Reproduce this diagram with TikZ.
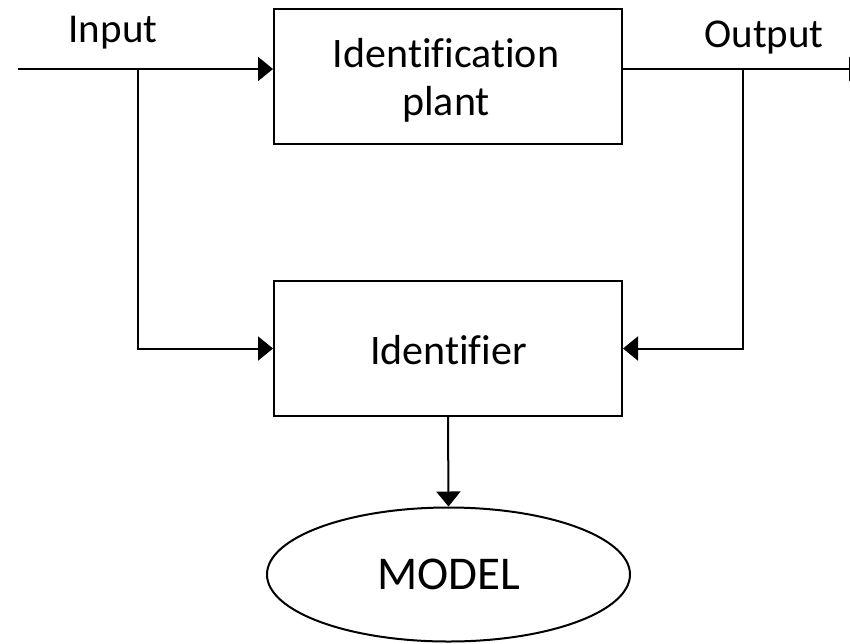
\documentclass[tikz,border=0pt]{standalone}
\usepackage{fontspec}
\setmainfont{Carlito}[Ligatures={NoCommon}]
\usetikzlibrary{arrows.meta,shapes.geometric}
\tikzset{
  blk/.style={draw, line width=2pt, minimum width=348pt, minimum height=135pt, inner sep=0pt},
  txt/.style={align=center, inner sep=0pt, font=\fontsize{42}{48}\selectfont},
  ovl/.style={draw, ellipse, line width=2pt, minimum width=363pt, minimum height=134pt, inner sep=0pt, font=\fontsize{47}{56}\selectfont},
  lbl/.style={anchor=base, inner sep=0pt, font=\fontsize{41}{48}\selectfont},
  wire/.style={line width=2pt},
  arr/.style={wire, -{Triangle[length=15pt,width=24pt]}}
}
\begin{document}
\begin{tikzpicture}[x=1pt,y=-1pt]
\useasboundingbox (0,0) rectangle (850,643);
\clip (0,0) rectangle (850,643);
\node[blk] (plant) at (448,76.5) {};
\node[txt] (planttxt) at (446,80) {Identification\\plant};
\node[blk] (ident) at (448,348.5) {};
\node[txt] (identtxt) at (448.5,350) {Identifier};
\node[ovl] (model) at (448.5,574.5) {MODEL};
\node[lbl] (inlbl) at (113,42) {Input};
\node[lbl] (outlbl) at (764,47) {Output};
\coordinate (in) at (18,69);
\coordinate (j1) at (138,69);
\coordinate (j2) at (743,69);
\coordinate (out) at (864,69);
\draw[arr] (in) -- (in -| plant.west);
\draw[arr] (j1) |- (ident.west);
\draw[arr] (out -| plant.east) -- (out);
\draw[arr] (j2) |- (ident.east);
\draw[arr] (ident.south) -- (model.north);
\end{tikzpicture}
\end{document}
